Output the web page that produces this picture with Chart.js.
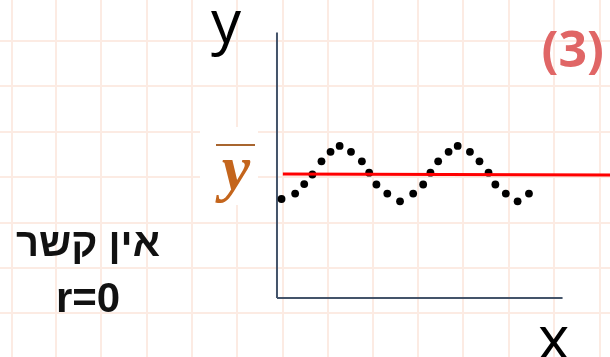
<!DOCTYPE html>
<html><head><meta charset="utf-8">
<script src="https://cdn.jsdelivr.net/npm/chart.js@4"></script>
<style>html,body{margin:0;padding:0;background:#fff;}#wrap{width:610px;height:357px;}</style>
</head><body><div id="wrap"><canvas id="c"></canvas></div>
<script>
// data in grid-cell units, origin at the axes corner
const pointX = [0.10,0.40,0.60,0.78,0.98,1.18,1.38,1.63,1.87,2.03,2.19,2.43,2.71,3.00,3.22,3.38,3.55,3.78,3.98,4.25,4.46,4.66,4.81,5.04,5.30,5.55];
const pointY = [2.18,2.30,2.51,2.72,3.01,3.22,3.35,3.22,3.01,2.76,2.50,2.30,2.13,2.30,2.50,2.76,3.01,3.22,3.35,3.22,3.01,2.76,2.50,2.30,2.13,2.30];
const meanLineX = [0.13, 7.40];
const meanLineY = [2.73, 2.71];
const yAxisX = [0, 0];
const yAxisY = [0, 5.85];
const xAxisX = [0, 6.29];
const xAxisY = [0, 0];
const gridXs = [-5.84,-4.87,-3.88,-2.86,-1.87,-0.88,0.13,1.12,2.11,3.11,4.10,5.11,6.10,7.11];
const gridYs = [5.66,4.67,3.66,2.67,1.65,0.66,-0.33];
const xLabel = 'x';
const yLabel = 'y';
const badge = '(3)';
const noteLine1 = 'אין קשר';
const noteLine2 = 'r=0';

const pts = pointX.map((x,i)=>({x, y: pointY[i]}));
const pair = (xs, ys) => xs.map((x,i)=>({x, y: ys[i]}));

const bgPlugin = {
  id:'bg',
  beforeDatasetsDraw(chart){
    const {ctx, scales:{x, y}} = chart;
    ctx.save();
    ctx.strokeStyle = '#fcebe3';
    ctx.lineWidth = 2;
    gridXs.forEach(v=>{const p=Math.round(x.getPixelForValue(v)); ctx.beginPath(); ctx.moveTo(p,0); ctx.lineTo(p,chart.height); ctx.stroke();});
    gridYs.forEach(v=>{const p=Math.round(y.getPixelForValue(v)); ctx.beginPath(); ctx.moveTo(0,p); ctx.lineTo(chart.width,p); ctx.stroke();});
    // texts
    ctx.fillStyle = '#000';
    ctx.textBaseline = 'alphabetic';
    ctx.font = '60px "Open Sans"';
    ctx.textAlign = 'left';
    ctx.fillText(yLabel, 211, 43);
    ctx.fillText(xLabel, 538, 359);
    ctx.fillStyle = '#e06666';
    ctx.font = 'bold 50px "Open Sans"';
    ctx.textAlign = 'right';
    ctx.fillText(badge, 604, 67);
    ctx.fillStyle = '#111';
    ctx.textAlign = 'center';
    ctx.font = 'bold 40px "Liberation Sans"';
    ctx.direction = 'rtl';
    ctx.fillText(noteLine1, 88, 256);
    ctx.direction = 'ltr';
    ctx.font = 'bold 42px "Liberation Sans"';
    ctx.fillText(noteLine2, 88, 312);
    // y-bar symbol
    ctx.fillStyle = '#fff';
    ctx.fillRect(200, 127, 58, 78);
    ctx.fillStyle = '#a8652f';
    ctx.fillRect(216, 144, 39, 2);
    ctx.fillStyle = '#c4651c';
    ctx.font = 'bold italic 64px "Liberation Serif"';
    ctx.textAlign = 'center';
    ctx.fillText('y', 236, 189);
    ctx.restore();
  }
};

new Chart(document.getElementById('c'), {
  type:'scatter',
  data:{datasets:[
    {data: pair(yAxisX, yAxisY), showLine:true, borderColor:'#44546a', borderWidth:2, pointRadius:0, order:3},
    {data: pair(xAxisX, xAxisY), showLine:true, borderColor:'#44546a', borderWidth:2, pointRadius:0, order:3},
    {data: pts, backgroundColor:'#000', borderColor:'#000', pointRadius:3.9, borderWidth:0, order:2},
    {data: pair(meanLineX, meanLineY), showLine:true, borderColor:'#ff0000', borderWidth:3, pointRadius:0, order:1}
  ]},
  options:{
    responsive:true, maintainAspectRatio:false, animation:false,
    layout:{padding:0, autoPadding:false},
    plugins:{legend:{display:false}, tooltip:{enabled:false}},
    scales:{
      x:{type:'linear', display:false, min:-6.101, max:7.335},
      y:{type:'linear', display:false, min:-1.300, max:6.564}
    }
  },
  plugins:[bgPlugin]
});
</script></body></html>
